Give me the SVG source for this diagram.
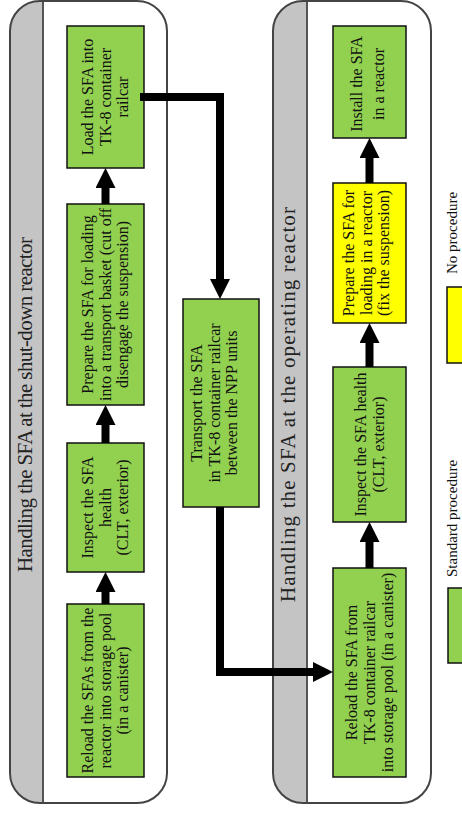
<svg xmlns="http://www.w3.org/2000/svg" width="462" height="815" viewBox="0 0 462 815">
<style>
  text { font-family: "Liberation Serif", "Times New Roman", serif; fill: #111; }
  .box { font-size: 16px; text-anchor: middle; }
  .title { font-size: 21px; text-anchor: middle; fill: #222; }
  .legend { font-size: 15px; text-anchor: start; }
  .green { fill: #92d050; stroke: #111; stroke-width: 1.5; }
  .yellow { fill: #ffff00; stroke: #111; stroke-width: 1.5; }
  .panel { fill: none; stroke: #444; stroke-width: 2; }
  .strip { fill: #c4c4c4; }
  .sep { stroke: #555; stroke-width: 2; }
  .conn { fill: none; stroke: #000; stroke-width: 8; stroke-linejoin: miter; stroke-linecap: butt; }
</style>
<defs>
  <marker id="ah" viewBox="0 0 20 20" refX="0" refY="10" markerWidth="20" markerHeight="20" markerUnits="userSpaceOnUse" orient="auto">
    <path d="M0,0 L20,10 L0,20 z" fill="#000"/>
  </marker>
  <clipPath id="clipL"><rect x="10" y="1" width="157" height="802" rx="30" ry="30"/></clipPath>
  <clipPath id="clipR"><rect x="273" y="1" width="158" height="802" rx="30" ry="30"/></clipPath>
</defs>
<rect x="0" y="0" width="462" height="815" fill="#fff"/>

<g id="panel-shutdown">
  <rect x="10" y="1" width="157" height="802" rx="30" ry="30" fill="#fff"/>
  <rect class="strip" x="10" y="1" width="33" height="802" clip-path="url(#clipL)"/>
  <line class="sep" x1="43" y1="1" x2="43" y2="803"/>
  <rect class="panel" x="10" y="1" width="157" height="802" rx="30" ry="30"/>
  <text class="title" transform="translate(32,404.5) rotate(-90)" textLength="335">Handling the SFA at the shut-down reactor</text>
</g>

<g id="panel-operating">
  <rect x="273" y="1" width="158" height="802" rx="30" ry="30" fill="#fff"/>
  <rect class="strip" x="273" y="1" width="34" height="802" clip-path="url(#clipR)"/>
  <line class="sep" x1="307" y1="1" x2="307" y2="803"/>
  <rect class="panel" x="273" y="1" width="158" height="802" rx="30" ry="30"/>
  <text class="title" transform="translate(295,404.5) rotate(-90)" textLength="395">Handling the SFA at the operating reactor</text>
</g>

<g id="node-reload-left">
  <rect class="green" x="67" y="604" width="77" height="173"/>
  <text class="box" transform="translate(105.5,690.5) rotate(-90)"><tspan x="0" y="-12.5">Reload the SFAs from the</tspan><tspan x="0" y="5">reactor into storage pool</tspan><tspan x="0" y="22.5">(in a canister)</tspan></text>
</g>
<g id="node-inspect-left">
  <rect class="green" x="67" y="443" width="77" height="129"/>
  <text class="box" transform="translate(105.5,507.5) rotate(-90)"><tspan x="0" y="-12.5">Inspect the SFA</tspan><tspan x="0" y="5">health</tspan><tspan x="0" y="22.5">(CLT, exterior)</tspan></text>
</g>
<g id="node-prepare-left">
  <rect class="green" x="67" y="204" width="77" height="201"/>
  <text class="box" transform="translate(105.5,304.5) rotate(-90)"><tspan x="0" y="-12.5">Prepare the SFA for loading</tspan><tspan x="0" y="5">into a transport basket (cut off</tspan><tspan x="0" y="22.5">disengage the suspension)</tspan></text>
</g>
<g id="node-load">
  <rect class="green" x="67" y="26" width="77" height="142"/>
  <text class="box" transform="translate(105.5,97) rotate(-90)"><tspan x="0" y="-12.5">Load the SFA into</tspan><tspan x="0" y="5">TK-8 container</tspan><tspan x="0" y="22.5">railcar</tspan></text>
</g>

<g id="node-transport">
  <rect class="green" x="183" y="299" width="76" height="208"/>
  <text class="box" transform="translate(221,403) rotate(-90)"><tspan x="0" y="-19">Transport the SFA</tspan><tspan x="0" y="-1.5">in TK-8 container railcar</tspan><tspan x="0" y="16">between the NPP units</tspan></text>
</g>

<g id="node-reload-right">
  <rect class="green" x="333" y="568" width="73" height="209"/>
  <text class="box" transform="translate(369.5,672.5) rotate(-90)"><tspan x="0" y="-12.5">Reload the SFA from</tspan><tspan x="0" y="5.5">TK-8 container railcar</tspan><tspan x="0" y="23.5">into storage pool (in a canister)</tspan></text>
</g>
<g id="node-inspect-right">
  <rect class="green" x="333" y="367" width="73" height="155"/>
  <text class="box" transform="translate(369.5,444.5) rotate(-90)"><tspan x="0" y="-4">Inspect the SFA health</tspan><tspan x="0" y="14">(CLT, exterior)</tspan></text>
</g>
<g id="node-prepare-right">
  <rect class="yellow" x="333" y="183" width="73" height="140"/>
  <text class="box" transform="translate(369.5,253) rotate(-90)"><tspan x="0" y="-15.5">Prepare the SFA for</tspan><tspan x="0" y="2">loading in a reactor</tspan><tspan x="0" y="19.5">(fix the suspension)</tspan></text>
</g>
<g id="node-install">
  <rect class="green" x="333" y="26" width="73" height="112"/>
  <text class="box" transform="translate(369.5,84) rotate(-90)"><tspan x="0" y="-7.5">Install the SFA</tspan><tspan x="0" y="14.5">in a reactor</tspan></text>
</g>

<g id="connectors">
  <line class="conn" x1="105.5" y1="604" x2="105.5" y2="592" marker-end="url(#ah)"/>
  <line class="conn" x1="105.5" y1="443" x2="105.5" y2="425" marker-end="url(#ah)"/>
  <line class="conn" x1="105.5" y1="204" x2="105.5" y2="188" marker-end="url(#ah)"/>
  <line class="conn" x1="369.5" y1="568" x2="369.5" y2="542" marker-end="url(#ah)"/>
  <line class="conn" x1="369.5" y1="367" x2="369.5" y2="343" marker-end="url(#ah)"/>
  <line class="conn" x1="369.5" y1="183" x2="369.5" y2="158" marker-end="url(#ah)"/>
  <path class="conn" d="M140,97 H220 V279" marker-end="url(#ah)"/>
  <path class="conn" d="M220,507 V672 H313" marker-end="url(#ah)"/>
</g>

<g id="legend">
  <rect class="yellow" x="447" y="287" width="20" height="76"/>
  <text class="legend" transform="translate(457,274) rotate(-90)">No procedure</text>
  <rect class="green" x="448" y="588" width="20" height="75"/>
  <text class="legend" transform="translate(457,577) rotate(-90)">Standard procedure</text>
</g>
</svg>
